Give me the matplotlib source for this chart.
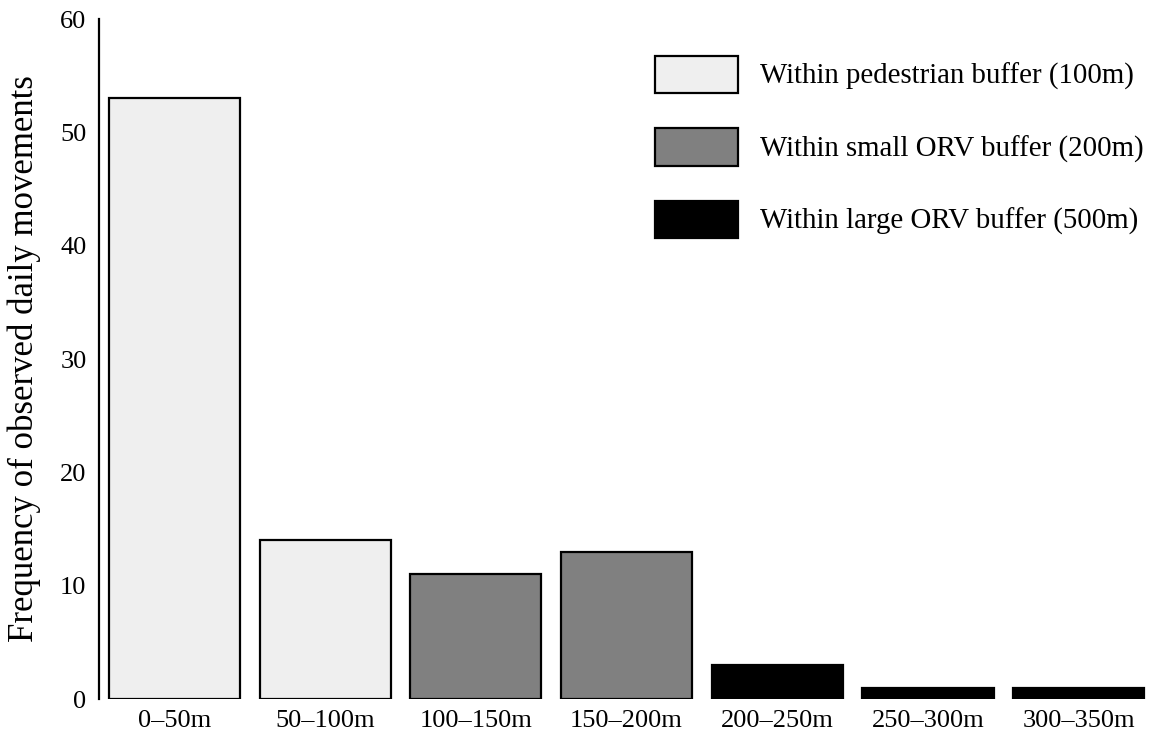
import matplotlib.pyplot as plt
from matplotlib.patches import Patch

plt.rcParams['font.family'] = ['Liberation Serif', 'DejaVu Serif']

distance_bins = ['0–50m', '50–100m', '100–150m', '150–200m', '200–250m', '250–300m', '300–350m']
frequencies = [53, 14, 11, 13, 3, 1, 1]
buffer_group = [0, 0, 1, 1, 2, 2, 2]
buffer_labels = ['Within pedestrian buffer (100m)',
                 'Within small ORV buffer (200m)',
                 'Within large ORV buffer (500m)']
buffer_colors = ['#efefef', '#808080', '#000000']

fig = plt.figure(figsize=(11.51, 7.38), dpi=100)
ax = fig.add_axes([99 / 1151, 39 / 738, 1 - 99 / 1151, 680 / 738])

x = range(len(distance_bins))
ax.bar(x, frequencies, width=0.87,
       color=[buffer_colors[g] for g in buffer_group],
       edgecolor='black', linewidth=1.6)

ax.set_xlim(-0.5, 6.48)
ax.set_ylim(0, 60)
ax.set_yticks(range(0, 61, 10))
ax.set_xticks(list(x))
ax.set_xticklabels(distance_bins)
ax.tick_params(axis='both', length=0, labelsize=19)
ax.tick_params(axis='x', pad=8)
ax.tick_params(axis='y', pad=9)

for side in ['top', 'right', 'bottom']:
    ax.spines[side].set_visible(False)
ax.spines['left'].set_linewidth(1.6)

ax.set_ylabel('Frequency of observed daily movements', fontsize=25)
ax.yaxis.set_label_coords(-0.055, 0.5)

handles = [Patch(facecolor=c, edgecolor='black', linewidth=1.6) for c in buffer_colors]
ax.legend(handles, buffer_labels, loc='upper right',
          bbox_to_anchor=(1.0 + 16 / 1052, 1.0 - 14 / 680),
          frameon=False, fontsize=20.8, handlelength=2.87, handleheight=1.6,
          labelspacing=1.22, handletextpad=0.76, borderaxespad=0.4)

fig.savefig('out.png', dpi=100)
